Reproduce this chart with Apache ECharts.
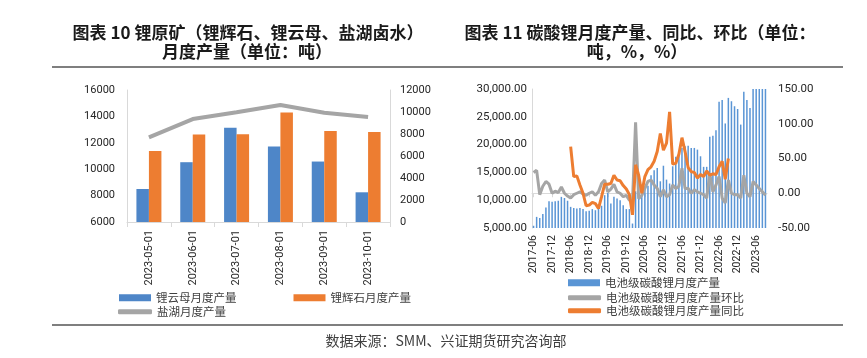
<!DOCTYPE html>
<html><head><meta charset="utf-8">
<script src="https://cdn.jsdelivr.net/npm/echarts@6/dist/echarts.min.js"></script>
<style>html,body{margin:0;padding:0;background:#fff}#c{width:867px;height:358px}</style>
</head><body><div id="c"></div>
<script>
// ---- Left chart data (tons) ----
const leftCats = ['2023-05-01','2023-06-01','2023-07-01','2023-08-01','2023-09-01','2023-10-01'];
const lepidolite = [8500, 10530, 13140, 11720, 10580, 8250];
const spodumene  = [11370, 12630, 12640, 14300, 12890, 12810];
const saltLake   = [7690, 9360, 9970, 10640, 9940, 9540];

// ---- Right chart data ----
const rightCats = [];
for (let y = 2017; y <= 2023; y++) for (let m = 1; m <= 12; m++) {
  const k = y * 100 + m;
  if (k >= 201706 && k <= 202309) rightCats.push(y + '-' + String(m).padStart(2, '0'));
}
const batteryLi2CO3 = [
  5400, 7000, 6800, 7500, 8700, 9800, 9700, 9800, 9900, 10600, 10400, 9900,
  8800, 8600, 8500, 8600, 8400, 8000, 8100, 8400, 8200, 8500, 9000, 10900,
  11300, 9400, 10600, 10300, 10000, 9100, 8400, 8400, 5800, 11600, 11200, 10900,
  12100, 12600, 14500, 15400, 15800, 13400, 16200, 13700, 13000, 16100, 17800, 18200,
  19400, 19700, 19800, 19400, 19400, 19100, 17900, 16000, 16000, 21400, 21600, 22600,
  27700, 28000, 23800, 28400, 27800, 26900, 26400, 23600, 29500, 28000, 26600, 31000,
  32000, 32000, 33000, 32000
];
const momPct = [
  30, 33, -2, 10, 17, 13, 0, 3, 1, 9, 0, -4,
  -7, -2, 0, 2, -1, -3, 0, 2, -3, 2, 14, 19,
  2, 6, 13, 2, 0, -5, -3, -10, -12, 102, -8, -3,
  7, 17, 19, 12, 7, -5, 5, -5, -2, 12, 7, 10,
  36, 7, 7, 0, 5, 2, 0, -2, -7, 28, 2, 12,
  24, -7, -14, 19, 0, -2, -2, -7, 26, 0, -5, 17,
  12, 7, 2, -3
];
const yoyPct = [
  null, null, null, null, null, null, null, null, null, null, null, null,
  67, 24, 25, 12, 0, -18, -17, -13, -15, -22, -5, 13,
  13, 14, 26, 19, 18, 11, 6, -2, -31, 41, 26, 0,
  24, 34, 38, 46, 60, 86, 62, 72, 117, 42, 43, 56,
  80, 60, 37, 31, 30, 22, 27, 24, 32, 26, 28, 27,
  38, 46, 20, 50
];

const axisTxt = { color: '#262626', fontFamily: 'Roboto', fontSize: 10.5 };
const axisLineC = '#D9D9D9';
const fmt2 = v => Number(v).toLocaleString('en-US', { minimumFractionDigits: 2, maximumFractionDigits: 2 });
const plain = v => String(v);
const legTxt = { fontFamily: 'Noto Sans CJK SC', fontSize: 11.5, color: '#404040' };

const chart = echarts.init(document.getElementById('c'), null, { renderer: 'canvas' });
chart.setOption({
  backgroundColor: '#fff',
  animation: false,
  textStyle: { fontFamily: 'Roboto' },
  graphic: [
    { type: 'text', x: 248, y: 33, style: { text: '图表 10 锂原矿（锂辉石、锂云母、盐湖卤水）', fontSize: 17, fontWeight: 'bold', fontFamily: 'Noto Sans CJK SC', fill: '#1a1a1a', align: 'center', verticalAlign: 'middle' } },
    { type: 'text', x: 247, y: 52, style: { text: '月度产量（单位：吨）', fontSize: 17, fontWeight: 'bold', fontFamily: 'Noto Sans CJK SC', fill: '#1a1a1a', align: 'center', verticalAlign: 'middle' } },
    { type: 'text', x: 640, y: 33, style: { text: '图表 11 碳酸锂月度产量、同比、环比（单位：', fontSize: 17, fontWeight: 'bold', fontFamily: 'Noto Sans CJK SC', fill: '#1a1a1a', align: 'center', verticalAlign: 'middle' } },
    { type: 'text', x: 637, y: 52, style: { text: '吨，%，%）', fontSize: 17, fontWeight: 'bold', fontFamily: 'Noto Sans CJK SC', fill: '#1a1a1a', align: 'center', verticalAlign: 'middle' } },
    { type: 'line', shape: { x1: 52, y1: 67, x2: 843, y2: 67 }, style: { stroke: '#000', lineWidth: 1.2 } },
    { type: 'line', shape: { x1: 52, y1: 325, x2: 843, y2: 325 }, style: { stroke: '#000', lineWidth: 1.2 } },
    { type: 'text', x: 446, y: 341, style: { text: '数据来源：SMM、兴证期货研究咨询部', fontSize: 14, fontFamily: 'Noto Sans CJK SC', fill: '#404040', align: 'center', verticalAlign: 'middle' } }
  ],
  legend: [
    { left: 114, top: 287, itemWidth: 32, itemHeight: 7, itemGap: 57, icon: 'rect',
      textStyle: legTxt, data: ['锂云母月度产量', '锂辉石月度产量'] },
    { left: 113, top: 301, itemWidth: 34, itemHeight: 5, icon: 'roundRect',
      textStyle: legTxt, data: ['盐湖月度产量'] },
    { left: 563, top: 272, itemWidth: 32, itemHeight: 7, icon: 'rect',
      textStyle: legTxt, data: ['电池级碳酸锂月度产量'] },
    { left: 563, top: 287, itemWidth: 33, itemHeight: 5, icon: 'roundRect',
      textStyle: legTxt, data: ['电池级碳酸锂月度产量环比'] },
    { left: 563, top: 300, itemWidth: 33, itemHeight: 5, icon: 'roundRect',
      textStyle: legTxt, data: ['电池级碳酸锂月度产量同比'] }
  ],
  grid: [
    { left: 127, top: 90, width: 263, height: 132 },
    { left: 532, top: 89, width: 235, height: 139 }
  ],
  xAxis: [
    { type: 'category', gridIndex: 0, data: leftCats,
      axisLine: { lineStyle: { color: axisLineC } },
      axisTick: { show: true, length: 5, lineStyle: { color: axisLineC } },
      axisLabel: Object.assign({ rotate: 90, margin: 8 }, axisTxt, { fontSize: 11 }) },
    { type: 'category', gridIndex: 1, data: rightCats,
      axisLine: { lineStyle: { color: axisLineC } },
      axisTick: { show: true, length: 4, interval: 5, alignWithLabel: true, lineStyle: { color: axisLineC } },
      axisLabel: Object.assign({ rotate: 90, margin: 7, interval: 5 }, axisTxt) }
  ],
  yAxis: [
    { type: 'value', gridIndex: 0, min: 6000, max: 16000, interval: 2000,
      axisLine: { show: true, lineStyle: { color: axisLineC } }, axisTick: { show: false },
      splitLine: { show: false }, axisLabel: Object.assign({ margin: 12, formatter: plain }, axisTxt, { fontSize: 11 }) },
    { type: 'value', gridIndex: 0, position: 'right', min: 0, max: 12000, interval: 2000,
      axisLine: { show: true, lineStyle: { color: axisLineC } }, axisTick: { show: false },
      splitLine: { show: false }, axisLabel: Object.assign({ margin: 10, formatter: plain }, axisTxt, { fontSize: 11 }) },
    { type: 'value', gridIndex: 1, min: 5000, max: 30000, interval: 5000,
      axisLine: { show: true, lineStyle: { color: axisLineC } }, axisTick: { show: false },
      splitLine: { show: false }, axisLabel: Object.assign({ margin: 5, formatter: fmt2 }, axisTxt, { fontSize: 11.5 }) },
    { type: 'value', gridIndex: 1, position: 'right', min: -50, max: 150, interval: 50,
      axisLine: { show: false }, axisTick: { show: false },
      splitLine: { show: false }, axisLabel: Object.assign({ margin: 11, formatter: v => Number(v).toFixed(2) }, axisTxt, { fontSize: 11.5 }) }
  ],
  series: [
    { name: '锂云母月度产量', type: 'bar', xAxisIndex: 0, yAxisIndex: 0, data: lepidolite,
      barWidth: 12.5, barGap: '0%', itemStyle: { color: '#4E86C8' } },
    { name: '锂辉石月度产量', type: 'bar', xAxisIndex: 0, yAxisIndex: 0, data: spodumene,
      barWidth: 12.5, barGap: '0%', itemStyle: { color: '#ED7D31' } },
    { name: '盐湖月度产量', type: 'line', xAxisIndex: 0, yAxisIndex: 1, data: saltLake,
      symbol: 'none', lineStyle: { color: '#A5A5A5', width: 4 }, itemStyle: { color: '#A5A5A5' } },
    { name: '电池级碳酸锂月度产量', type: 'bar', xAxisIndex: 1, yAxisIndex: 2, data: batteryLi2CO3,
      barWidth: 1.5, itemStyle: { color: '#5A95D5' } },
    { name: '电池级碳酸锂月度产量环比', type: 'line', xAxisIndex: 1, yAxisIndex: 3, data: momPct,
      symbol: 'none', lineStyle: { color: '#A5A5A5', width: 3 }, itemStyle: { color: '#A5A5A5' } },
    { name: '电池级碳酸锂月度产量同比', type: 'line', xAxisIndex: 1, yAxisIndex: 3, data: yoyPct,
      symbol: 'none', connectNulls: false, lineStyle: { color: '#ED7D31', width: 3 }, itemStyle: { color: '#ED7D31' } }
  ]
});
</script></body></html>
